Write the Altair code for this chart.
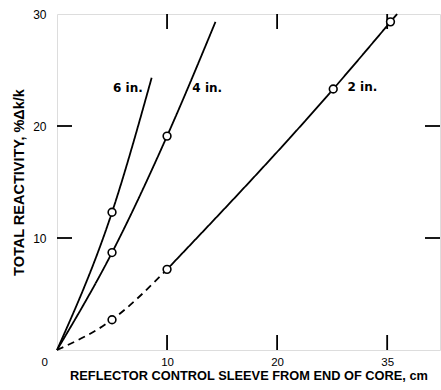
import altair as alt
import pandas as pd

# Reactivity curves for three sleeve thicknesses
series = ["6 in.", "4 in.", "2 in."]
x_6in = [0, 5, 8.6]
y_6in = [0, 12.3, 24.3]
x_4in = [0, 5, 10, 14.4]
y_4in = [0, 8.7, 19.1, 29.3]
x_2in_dash = [0, 5, 10]
y_2in_dash = [0, 2.7, 7.2]
x_2in = [10, 25.1, 30.3, 30.9]
y_2in = [7.2, 23.3, 29.3, 30]

# Measured points (open circles)
pt_x = [5, 5, 10, 5, 10, 25.1, 30.3]
pt_y = [12.3, 8.7, 19.1, 2.7, 7.2, 23.3, 29.3]

# Curve name annotations
lab_text = ["6 in.", "4 in.", "2 in."]
lab_x = [7.8, 12.3, 26.4]
lab_y = [23.4, 23.4, 23.5]
lab_align = ["right", "left", "left"]

# Axis ticks and tick labels
x_tick_values = [0, 10, 20, 30]
x_tick_labels = ["0", "10", "20", "35"]
y_tick_values = [10, 20, 30]
x_inner_ticks = [10, 20, 30]
y_inner_ticks = [10, 20]

W, H = 383, 336
FONT = "DejaVu Sans"
TICK = 15

curves = pd.concat([
    pd.DataFrame({"x": x_6in, "y": y_6in, "seg": "6 in. solid", "dash": "solid"}),
    pd.DataFrame({"x": x_4in, "y": y_4in, "seg": "4 in. solid", "dash": "solid"}),
    pd.DataFrame({"x": x_2in_dash, "y": y_2in_dash, "seg": "2 in. dashed", "dash": "dashed"}),
    pd.DataFrame({"x": x_2in, "y": y_2in, "seg": "2 in. solid", "dash": "solid"}),
])
points = pd.DataFrame({"x": pt_x, "y": pt_y})
labels = pd.DataFrame({"t": lab_text, "x": lab_x, "y": lab_y, "a": lab_align})
xt = pd.DataFrame({"v": x_inner_ticks})
yt = pd.DataFrame({"v": y_inner_ticks})

label_expr = " : ".join(
    [f"datum.value == {v} ? '{s}'" for v, s in zip(x_tick_values, x_tick_labels)] + ["datum.label"]
)

xscale = alt.Scale(domain=[0, 34.8], nice=False, zero=False)
yscale = alt.Scale(domain=[0, 30], nice=False, zero=False)

x_enc = alt.X(
    "x:Q", scale=xscale,
    axis=alt.Axis(
        values=x_tick_values, labelExpr=label_expr, title="REFLECTOR CONTROL SLEEVE FROM END OF CORE, cm",
        grid=False, domain=False, ticks=False, labelPadding=6, labelFontSize=11.5,
        labelOffset={"condition": {"test": "datum.value == 0", "value": -16}, "value": 0},
        titlePadding=2, titleFontSize=12.8,
    ),
)
y_enc = alt.Y(
    "y:Q", scale=yscale,
    axis=alt.Axis(
        values=y_tick_values, title="TOTAL REACTIVITY, %Δk/k", grid=False, domain=False, ticks=False,
        labelPadding=11, labelFontSize=12, titlePadding=6, titleFontSize=14.5,
    ),
)

lines = alt.Chart(curves).mark_line(color="black", strokeWidth=1.8, interpolate="monotone").encode(
    x=x_enc, y=y_enc, detail="seg:N",
    strokeDash=alt.StrokeDash("dash:N", scale=alt.Scale(domain=["solid", "dashed"], range=[[1, 0], [7, 5]]), legend=None),
)

circles = alt.Chart(points).mark_point(
    shape="circle", size=60, filled=True, fill="white", stroke="black", strokeWidth=1.6, opacity=1
).encode(x="x:Q", y="y:Q")

text_left = alt.Chart(labels).transform_filter("datum.a == 'left'").mark_text(
    align="left", baseline="middle", font=FONT, fontWeight="bold", fontSize=12, color="black"
).encode(x="x:Q", y="y:Q", text="t:N")
text_right = alt.Chart(labels).transform_filter("datum.a == 'right'").mark_text(
    align="right", baseline="middle", font=FONT, fontWeight="bold", fontSize=12, color="black"
).encode(x="x:Q", y="y:Q", text="t:N")

tick_style = dict(color="black", strokeWidth=1.8)
bottom_ticks = alt.Chart(xt).mark_rule(**tick_style).encode(
    x="v:Q", y=alt.value(H), y2=alt.value(H - TICK))
top_ticks = alt.Chart(xt).mark_rule(**tick_style).encode(
    x="v:Q", y=alt.value(0), y2=alt.value(TICK))
left_ticks = alt.Chart(yt).mark_rule(**tick_style).encode(
    y="v:Q", x=alt.value(0), x2=alt.value(TICK))
right_ticks = alt.Chart(yt).mark_rule(**tick_style).encode(
    y="v:Q", x=alt.value(W), x2=alt.value(W - TICK))

chart = alt.layer(
    bottom_ticks, top_ticks, left_ticks, right_ticks, lines, circles, text_left, text_right
).properties(
    width=W, height=H,
    autosize=alt.AutoSizeParams(type="none"),
    padding={"left": 57, "top": 14, "right": 1, "bottom": 40},
).configure_view(
    stroke="black", strokeWidth=2
).configure_axis(
    labelFont=FONT, titleFont=FONT, labelColor="black", titleColor="black",
    labelFontWeight="bold", titleFontWeight="bold",
).configure(background="white")

chart.save("out.html", embed_options={"renderer": "svg", "actions": False})
